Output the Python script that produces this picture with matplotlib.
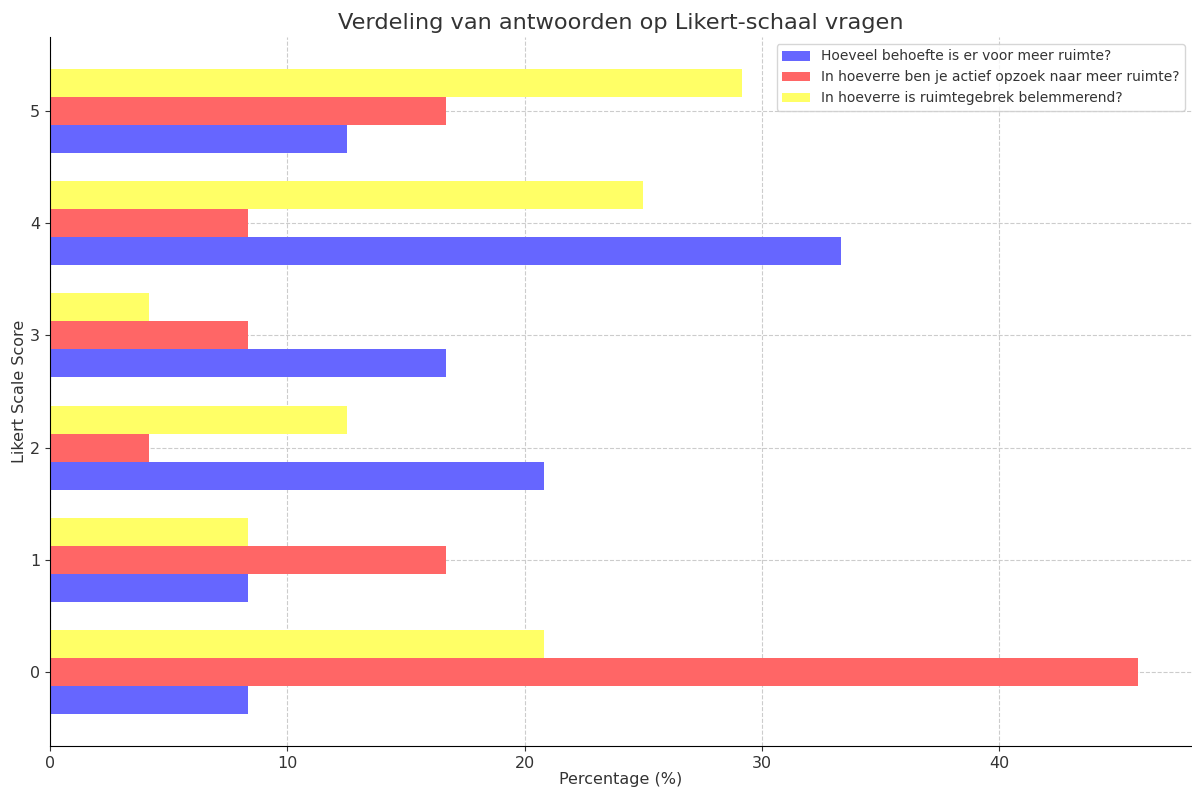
import matplotlib
matplotlib.use('Agg')
import matplotlib.pyplot as plt
import numpy as np

scores = [0, 1, 2, 3, 4, 5]
labels = ['Hoeveel behoefte is er voor meer ruimte?',
          'In hoeverre ben je actief opzoek naar meer ruimte?',
          'In hoeverre is ruimtegebrek belemmerend?']
# percentages (n = 24 respondents)
behoefte = [8.33, 8.33, 20.83, 16.67, 33.33, 12.50]
opzoek = [45.83, 16.67, 4.17, 8.33, 8.33, 16.67]
belemmerend = [20.83, 8.33, 12.50, 4.17, 25.00, 29.17]

colors = ['#6666ff', '#ff6666', '#ffff66']
text_color = '#333333'
plt.rcParams['text.color'] = text_color
plt.rcParams['axes.labelcolor'] = text_color
plt.rcParams['xtick.color'] = text_color
plt.rcParams['ytick.color'] = text_color

fig = plt.figure(figsize=(11.92, 7.91), dpi=100)
ax = fig.add_axes([50/1192, 45/791, 1142/1192, 709/791])

y = np.array(scores)
h = 0.25
for off, vals, c, lab in zip([-h, 0, h], [behoefte, opzoek, belemmerend], colors, labels):
    ax.barh(y + off, vals, height=h, color=c, label=lab, zorder=2)

ax.set_yticks(scores)
ax.tick_params(labelsize=11.5)
ax.set_xlabel('Percentage (%)', fontsize=11.5, labelpad=1)
ax.set_ylabel('Likert Scale Score', fontsize=11.5, labelpad=2)
ax.set_title('Verdeling van antwoorden op Likert-schaal vragen', fontsize=16.2)
ax.grid(True, linestyle='--', color='#cccccc', linewidth=0.8, zorder=0)
ax.spines['top'].set_visible(False)
ax.spines['right'].set_visible(False)
ax.legend(loc='upper right', fontsize=10)

fig.savefig('out.png', dpi=100)
